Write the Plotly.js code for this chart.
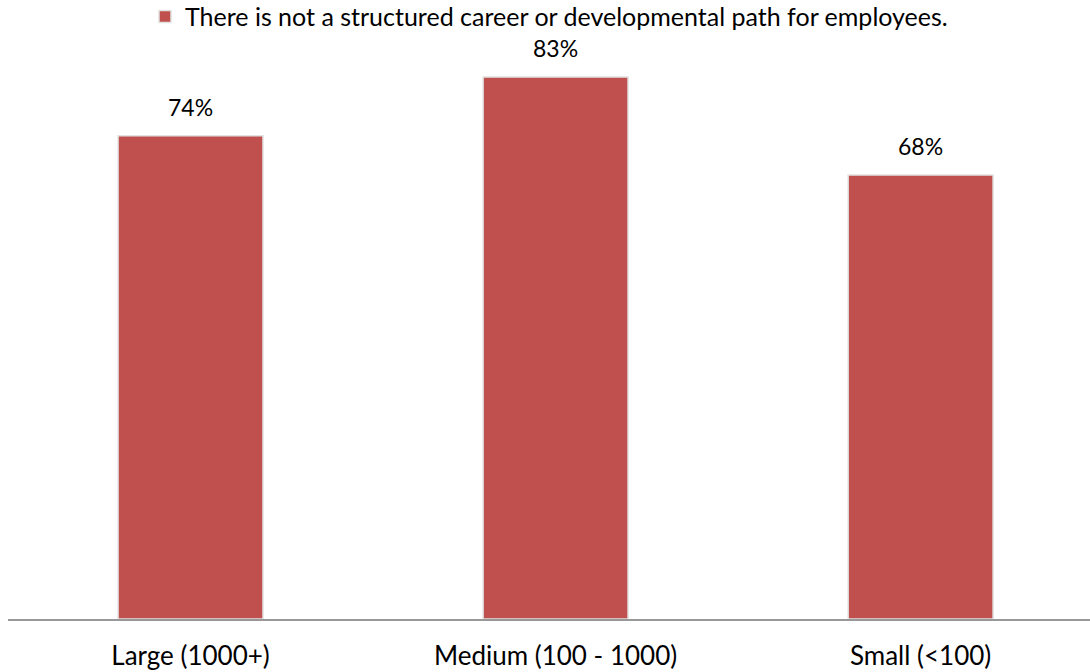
<!DOCTYPE html>
<html>
<head>
<meta charset="utf-8">
<script src="https://cdn.plot.ly/plotly-3.0.1.min.js"></script>
<style>html,body{margin:0;padding:0;background:#fff;}#chart{width:1090px;height:672px;}</style>
</head>
<body>
<div id="chart"></div>
<script>
const categories = ["Large (1000+)", "Medium (100 - 1000)", "Small (<100)"];
const values = [74, 83, 68];
const seriesName = "There is not a structured career or developmental path for employees.";
const valueLabels = values.map(v => v + "%");

const FONT = "Lato, 'Open Sans', sans-serif";

const trace = {
  type: "bar",
  x: categories,
  y: values,
  name: seriesName,
  showlegend: true,
  width: 0.397,
  marker: {color: "#C0504D", line: {color: "#E2E2E2", width: 1.5}},
  hoverinfo: "none"
};

const annotations = categories.map((c, i) => ({
  x: c, y: values[i], xref: "x", yref: "y",
  text: valueLabels[i], showarrow: false,
  yanchor: "bottom", yshift: 13,
  font: {family: FONT, size: 23, color: "#000"}
}));

const layout = {
  width: 1090, height: 672,
  margin: {l: 8, r: 0, t: 0, b: 53, autoexpand: false},
  paper_bgcolor: "#fff", plot_bgcolor: "#fff",
  font: {family: FONT, size: 23, color: "#000"},
  showlegend: true,
  legend: {
    orientation: "h", x: 0.5, xanchor: "center",
    y: 0.975, yref: "container", yanchor: "middle",
    font: {family: FONT, size: 25, color: "#000"},
    bgcolor: "rgba(0,0,0,0)", borderwidth: 0
  },
  xaxis: {
    type: "category", range: [-0.5, 2.464],
    showgrid: false, zeroline: false,
    showline: true, linecolor: "#999999", linewidth: 2,
    ticks: "", ticklabelstandoff: 13,
    tickfont: {family: FONT, size: 26, color: "#000"}
  },
  yaxis: {
    range: [0, 94.8], visible: false, showgrid: false, zeroline: false
  },
  annotations: annotations
};

Plotly.newPlot("chart", [trace], layout, {displayModeBar: false, staticPlot: true});
</script>
</body>
</html>
